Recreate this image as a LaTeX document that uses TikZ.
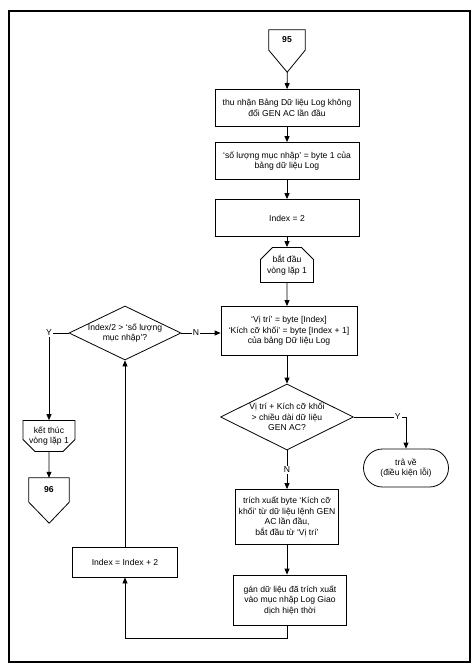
\documentclass[tikz,border=0pt]{standalone}
\usepackage{fontspec}
\setmainfont{Liberation Sans}
\usetikzlibrary{shapes.geometric, shapes.misc, arrows.meta}
\tikzset{
  font=\fontsize{8.6}{10.5}\selectfont,      % small sans text everywhere
  base/.style      = {draw, line width=0.8pt, align=center, inner sep=1pt},
  process/.style   = {base, rectangle},
  decision/.style  = {base, diamond, aspect=2, inner xsep=-5pt, inner ysep=0pt},
  terminal/.style  = {base, rounded rectangle},
  loopstart/.style = {base, chamfered rectangle, inner sep=0pt,
                      chamfered rectangle corners={north west, north east},
                      chamfered rectangle xsep=6pt, chamfered rectangle ysep=6pt},
  loopend/.style   = {base, chamfered rectangle, inner sep=0pt,
                      chamfered rectangle corners={south west, south east},
                      chamfered rectangle xsep=6pt, chamfered rectangle ysep=6pt},
  offpage/.style   = {rectangle, inner sep=0pt, font=\fontsize{8.6}{10}\selectfont\bfseries},
  arrow/.style     = {line width=0.8pt, -{Triangle[length=6pt, width=5pt]}},
  flow/.style      = {line width=0.8pt},
  answer/.style    = {fill=white, inner sep=1pt}
}
\begin{document}
\begin{tikzpicture}[x=1pt, y=-1pt]
  \useasboundingbox (0,0) rectangle (476,667);
  \draw[line width=1.3pt] (9,11) rectangle (470,662);

  % main column
  \node[offpage, minimum width=36pt, minimum height=20pt] (pg95) at (287,40) {95};
  \draw[flow] (pg95.north west) -- (pg95.north east) -- (pg95.south east)
    -- ++(-18,22) coordinate (pg95tip) -- (pg95.south west) -- cycle;
  \node[process, minimum width=144pt, minimum height=37pt] (getlog) at (287,108)
    {thu nhận Bảng Dữ liệu Log không\\đổi GEN AC lần đầu};
  \node[process, minimum width=144pt, minimum height=37pt] (nument) at (287,161)
    {`số lượng mục nhập' = byte 1 của\\bảng dữ liệu Log};
  \node[process, minimum width=144pt, minimum height=37pt] (setidx) at (287,218) {Index = 2};
  \node[loopstart, minimum width=53pt, minimum height=35pt] (loopbeg) at (287,265) {bắt đầu\\vòng lặp 1};
  \node[process, minimum width=136pt, minimum height=49pt] (readpos) at (289,331)
    {`Vị trí' = byte [Index]\\`Kích cỡ khối' = byte [Index + 1]\\của bảng Dữ liệu Log};
  \node[decision, minimum width=133pt, minimum height=66pt] (chklen) at (287,417)
    {Vị trí + Kích cỡ khối\\> chiều dài dữ liệu\\GEN AC?};
  \node[terminal, minimum width=87pt, minimum height=38pt] (reterr) at (406,468) {trả về\\(điều kiện lỗi)};
  \node[process, minimum width=103pt, minimum height=55pt] (extract) at (287,517)
    {trích xuất byte `Kích cỡ\\khối' từ dữ liệu lệnh GEN\\AC lần đầu,\\bắt đầu từ `Vị trí'};
  \node[process, minimum width=113pt, minimum height=50pt] (assign) at (290,600)
    {gán dữ liệu đã trích xuất\\vào mục nhập Log Giao\\dịch hiện thời};

  % left column
  \node[process, minimum width=105pt, minimum height=30pt] (incidx) at (125,562) {Index = Index + 2};
  \node[decision, minimum width=112pt, minimum height=54pt] (chkidx) at (125,333)
    {Index/2 > `số lượng\\mục nhập'?};
  \node[loopend, minimum width=52pt, minimum height=29pt] (loopfin) at (49,436) {kết thúc\\vòng lặp 1};
  \node[offpage, minimum width=40pt, minimum height=24pt] (pg96) at (49,490) {96};
  \draw[flow] (pg96.north west) -- (pg96.north east) -- (pg96.south east)
    -- ++(-20,21) coordinate (pg96tip) -- (pg96.south west) -- cycle;

  % connectors
  \draw[arrow] (pg95tip) -- (getlog);
  \draw[arrow] (getlog) -- (nument);
  \draw[arrow] (nument) -- (setidx);
  \draw[arrow] (setidx) -- (loopbeg);
  \draw[arrow] (loopbeg) -- (loopbeg |- readpos.north);
  \draw[arrow] (loopbeg |- readpos.south) -- (chklen);
  \draw[arrow] (chklen.east) -| node[answer, pos=0.42] {Y} (reterr.north);
  \draw[arrow] (chklen) -- node[answer] {N} (extract);
  \draw[arrow] (extract.south) -- (extract.south |- assign.north);
  \draw[arrow] (extract.south |- assign.south) -- ++(0,13) -| (incidx.south);
  \draw[arrow] (incidx) -- (chkidx);
  \draw[arrow] (chkidx.east) -- node[answer, pos=0.37] {N} (chkidx.east -| readpos.west);
  \draw[flow] (chkidx.west) -- (loopfin.north |- chkidx.west);
  \draw[arrow] (loopfin.north |- chkidx.west) -- (loopfin.north);
  \node[answer] (yleft) at (loopfin.north |- chkidx.west) {Y};
  \draw[arrow] (loopfin) -- (pg96);
\end{tikzpicture}
\end{document}
